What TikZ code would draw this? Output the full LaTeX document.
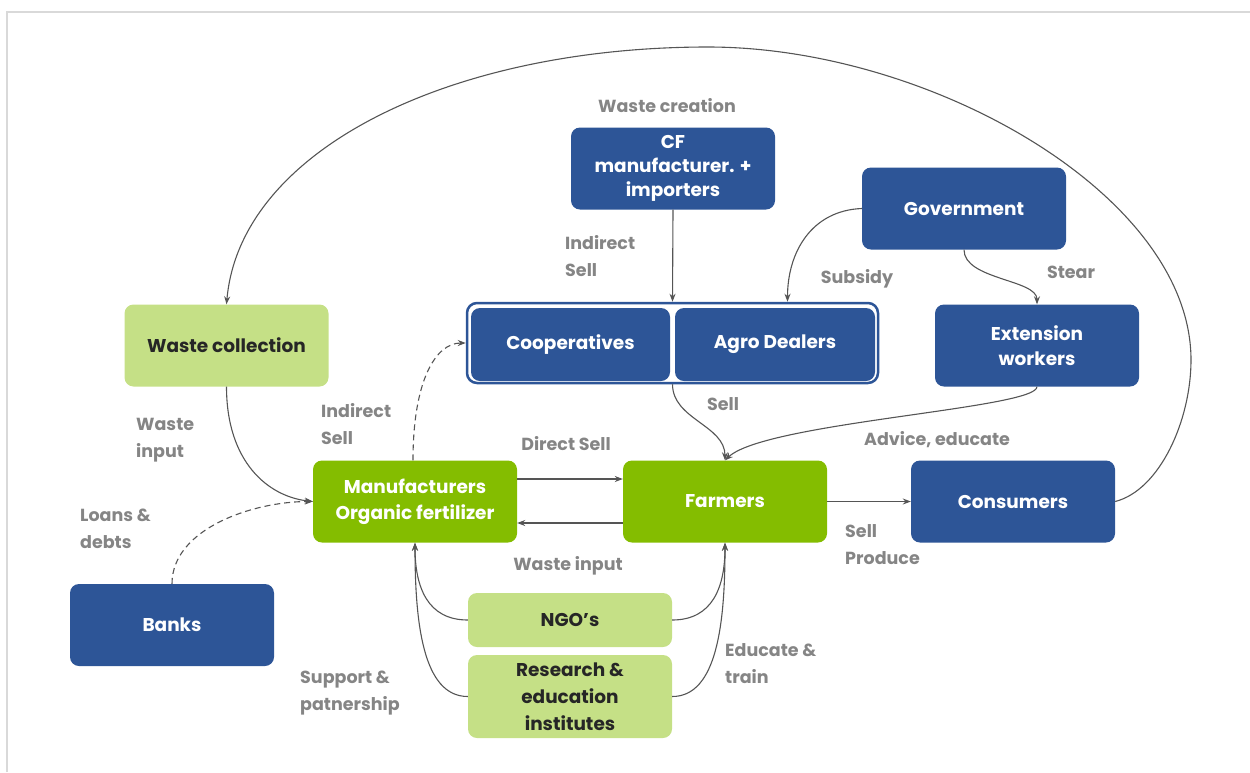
\documentclass[tikz,border=0pt]{standalone}
\usepackage{fontspec}
\setmainfont{Poppins}
\usetikzlibrary{arrows.meta}
\definecolor{boxblue}{HTML}{2D5597}
\definecolor{boxgreen}{HTML}{84BD00}
\definecolor{palegreen}{HTML}{C5E086}
\definecolor{labelgray}{HTML}{858585}
\definecolor{linegray}{HTML}{555555}
\definecolor{framegray}{HTML}{D9D9D9}
\begin{document}
\begin{tikzpicture}[x=1pt,y=-1pt,
    box/.style={rounded corners=9pt,minimum width=204pt,minimum height=82pt,inner sep=0pt,align=center,font=\fontsize{18.5}{25}\selectfont\bfseries},
    bluebox/.style={box,fill=boxblue,text=white},
    greenbox/.style={box,fill=boxgreen,text=white},
    palebox/.style={box,fill=palegreen,text=black!85},
    lbl/.style={inner sep=0pt,align=left,text=labelgray,font=\fontsize{17.5}{27}\selectfont\bfseries},
    conn/.style={linegray,line width=1.1pt,-{Stealth[length=8pt,width=6pt]}},
    dash line/.style={dash pattern=on 6pt off 4pt}]
    \useasboundingbox (0,0) rectangle (1250,772);
    \draw[framegray,line width=1.5pt] (7,772) -- (7,12) -- (1250,12);

    \node[bluebox,font=\fontsize{18.5}{24}\selectfont\bfseries] (cf) at (673,168.5) {CF\\manufacturer. +\\importers};
    \node[bluebox] (gov) at (964,208.5) {Government};
    \node[palebox] (wc) at (226.5,345.5) {Waste collection};
    \node[draw=boxblue,line width=2.5pt,fill=white,rounded corners=10pt,minimum width=411pt,minimum height=80pt] (dist) at (672.5,343) {};
    \node[bluebox,minimum width=199pt,minimum height=73pt] (coop) at (570.5,344.5) {Cooperatives};
    \node[bluebox,minimum width=200pt,minimum height=73pt] (agro) at (775,344.5) {Agro Dealers};
    \node[bluebox] (ext) at (1037,345.5) {Extension\\workers};
    \node[greenbox,font=\fontsize{18.5}{26}\selectfont\bfseries] (mfr) at (415,501.5) {Manufacturers\\Organic fertilizer};
    \node[greenbox] (farm) at (725,501.5) {Farmers};
    \node[bluebox] (cons) at (1013,501.5) {Consumers};
    \node[bluebox] (bank) at (172,625) {Banks};
    \node[palebox,minimum height=54pt] (ngo) at (570,620) {NGO’s};
    \node[palebox,minimum height=83pt,font=\fontsize{18.5}{27}\selectfont\bfseries] (res) at (570,696.5) {Research \&\\education\\institutes};

    \node[lbl] (wastecreation) at (667,106) {Waste creation};
    \node[lbl,anchor=west] (indirecttop) at (565,256) {Indirect\\Sell};
    \node[lbl] (subsidy) at (857,279) {Subsidy};
    \node[lbl] (stear) at (1071,272) {Stear};
    \node[lbl] (sell) at (723,404) {Sell};
    \node[lbl] (advice) at (937,440) {Advice, educate};
    \node[lbl,anchor=west] (wasteleft) at (136,440) {Waste\\input};
    \node[lbl,anchor=west] (indirectleft) at (321,424) {Indirect\\Sell};
    \node[lbl] (direct) at (566,444) {Direct Sell};
    \node[lbl,anchor=west] (loans) at (80,529) {Loans \&\\debts};
    \node[lbl] (wasteinput) at (568,566) {Waste input};
    \node[lbl,anchor=west] (produce) at (845,545) {Sell\\Produce};
    \node[lbl,anchor=west] (educate) at (725,664) {Educate \&\\train};
    \node[lbl,anchor=west] (support) at (300,693) {Support \&\\patnership};

    \draw[conn] (cons.east) .. controls (1160,490) and (1191,420) .. (1191,360) .. controls (1191,195) and (930,47) .. (708,47) .. controls (450,47) and (240,150) .. (wc.north);
    \draw[conn] (cf.south) -- (dist.north);
    \draw[conn] (gov.west) .. controls +(-50,2) and +(0,-50) .. ([xshift=115pt]dist.north);
    \draw[conn] (gov.south) .. controls +(0,30) and +(0,-25) .. (ext.north);
    \draw[conn] (dist.south) .. controls +(0,35) and +(0,-35) .. (farm.north);
    \draw[conn] (ext.south) .. controls +(0,22) and +(40,-38) .. (farm.north);
    \draw[conn] (wc.south) .. controls +(0,75) and +(-45,-5) .. (mfr.west);
    \draw[conn,dash line] (bank.north) .. controls +(0,-55) and +(-60,0) .. (mfr.west);
    \draw[conn,dash line] ([xshift=-2pt]mfr.north) .. controls +(0,-80) and +(-30,0) .. (dist.west);
    \draw[conn] ([yshift=22.5pt]mfr.east) -- ([yshift=22.5pt]farm.west);
    \draw[conn] ([yshift=-21.5pt]farm.west) -- ([yshift=-21.5pt]mfr.east);
    \draw[conn] (farm.east) -- (cons.west);
    \draw[conn] (ngo.west) .. controls +(-40,0) and +(0,45) .. (mfr.south);
    \draw[conn] (res.west) .. controls +(-45,0) and +(0,80) .. (mfr.south);
    \draw[conn] (ngo.east) .. controls +(40,0) and +(0,45) .. (farm.south);
    \draw[conn] (res.east) .. controls +(45,0) and +(0,80) .. (farm.south);
  \end{tikzpicture}
\end{document}
